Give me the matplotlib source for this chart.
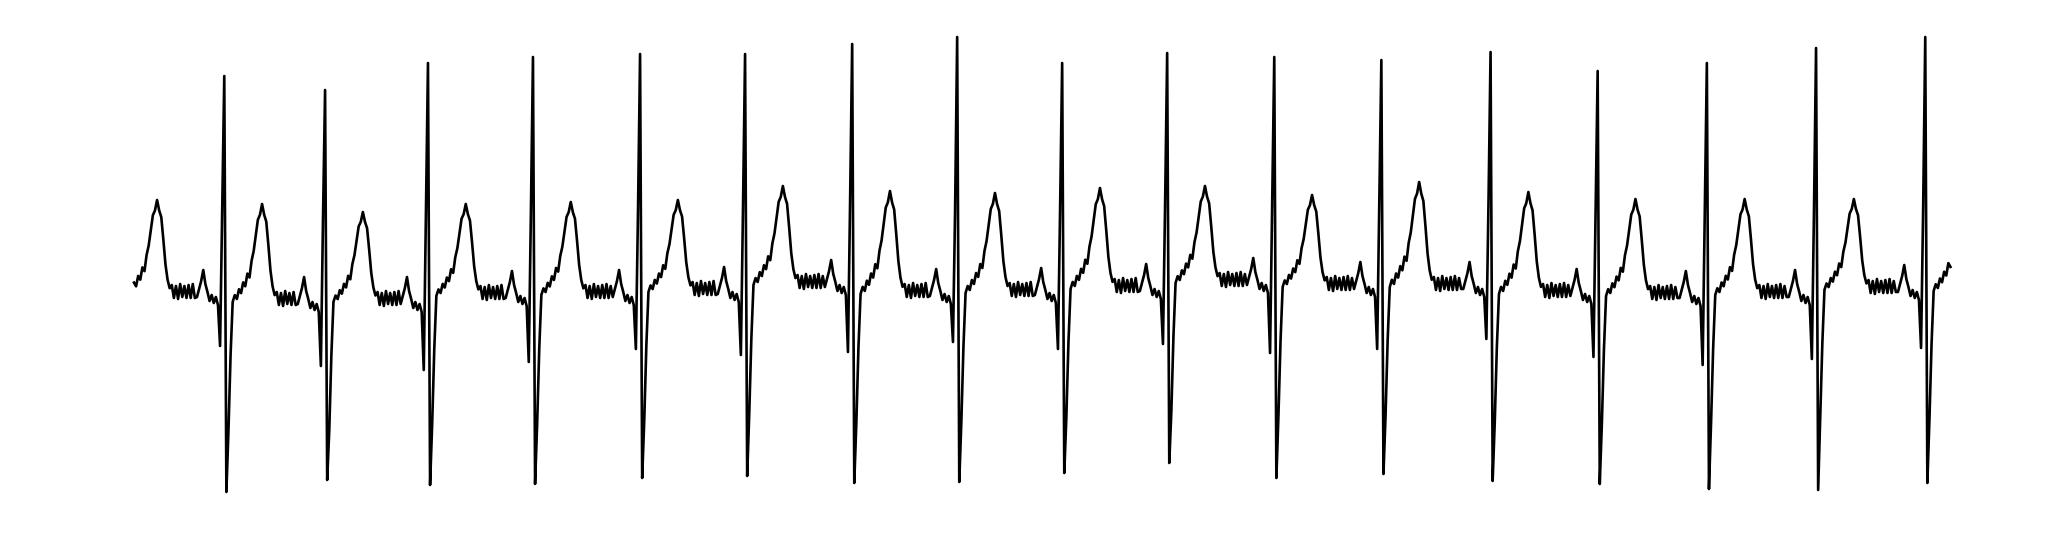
import numpy as np
import matplotlib.pyplot as plt

fs = 250  # Hz

# R peak sample positions and amplitudes (mV), one per beat
r_idx = [43, 91, 140, 190, 241, 291, 342, 392, 442, 492, 543, 594, 646, 697, 749, 801, 853]
r_amp = [2.14, 2.00, 2.27, 2.33, 2.36, 2.36, 2.46, 2.53, 2.27, 2.37, 2.33, 2.30, 2.38, 2.19, 2.27, 2.42, 2.53]
s_amp = [-2.02, -1.90, -1.95, -1.94, -1.88, -1.86, -1.93, -1.92, -1.83, -1.73, -1.88, -1.84, -1.91, -1.94, -1.99, -2.00, -1.93]
q_amp = [-0.56, -0.76, -0.80, -0.72, -0.59, -0.65, -0.62, -0.52, -0.59, -0.54, -0.63, -0.59, -0.49, -0.67, -0.75, -0.69, -0.58]

# one entry per stretch between R peaks (first and last are partial)
t_amp = [0.90, 0.86, 0.78, 0.86, 0.88, 0.90, 1.04, 0.99, 0.97, 1.02, 1.04, 0.95, 1.08, 0.98, 0.91, 0.91, 0.91, 0.95]
baseline = [-0.03, -0.10, -0.10, -0.04, -0.03, 0.00, 0.07, -0.02, -0.01, 0.03, 0.09, 0.05, 0.05, -0.02, -0.04, -0.03, 0.02, 0.01]
n_samples = 866

st_t_wave = [-0.02, 0.05, 0.01, 0.11, 0.07, 0.18, 0.14, 0.27, 0.23, 0.40, 0.50,
             0.66, 0.82, 0.87, 0.98, 0.87, 0.80, 0.56, 0.30, 0.14, 0.05]
ripple = [0.08, -0.05, 0.07, -0.06, 0.09, -0.04, 0.07, -0.05,
          0.08, -0.05, 0.09, -0.05, 0.07, -0.04, 0.08, -0.05]
p_tail = [-0.04, 0.04, 0.12, 0.23, 0.09, 0.01, -0.08, -0.02, -0.10, -0.04, -0.12]


def segment(length, base, t, r=None, s=None, q=None):
    # R, S, recovery, ST/T, noisy baseline, P, Q, upstroke
    scale = (t - base) / max(st_t_wave)
    head = [r, s, base - 1.30, base - 0.55] + [base + v * scale for v in st_t_wave]
    tail = [base + v for v in p_tail] + [q, base + 0.80]
    mid = [base + v for v in ripple[:length - len(head) - len(tail)]]
    return head + mid + tail


ecg = segment(50, baseline[0], t_amp[0], q=q_amp[0])[50 - r_idx[0]:]
for i in range(1, len(r_idx)):
    ecg += segment(r_idx[i] - r_idx[i - 1], baseline[i], t_amp[i],
                   r_amp[i - 1], s_amp[i - 1], q_amp[i])
ecg += segment(50, baseline[-1], t_amp[-1], r_amp[-1], s_amp[-1])[:n_samples - r_idx[-1]]

ecg = np.array(ecg, dtype=float)
t = np.arange(len(ecg)) / fs

fig = plt.figure(figsize=(20.46, 5.38), dpi=100)
ax = fig.add_axes([0, 0, 1, 1])
ax.plot(t, ecg, color='black', linewidth=1.9)
ax.set_xlim(-63.8 / fs, 910.5 / fs)
ax.set_ylim(-2.48, 2.90)
ax.axis('off')

fig.savefig('out.png', dpi=100)
